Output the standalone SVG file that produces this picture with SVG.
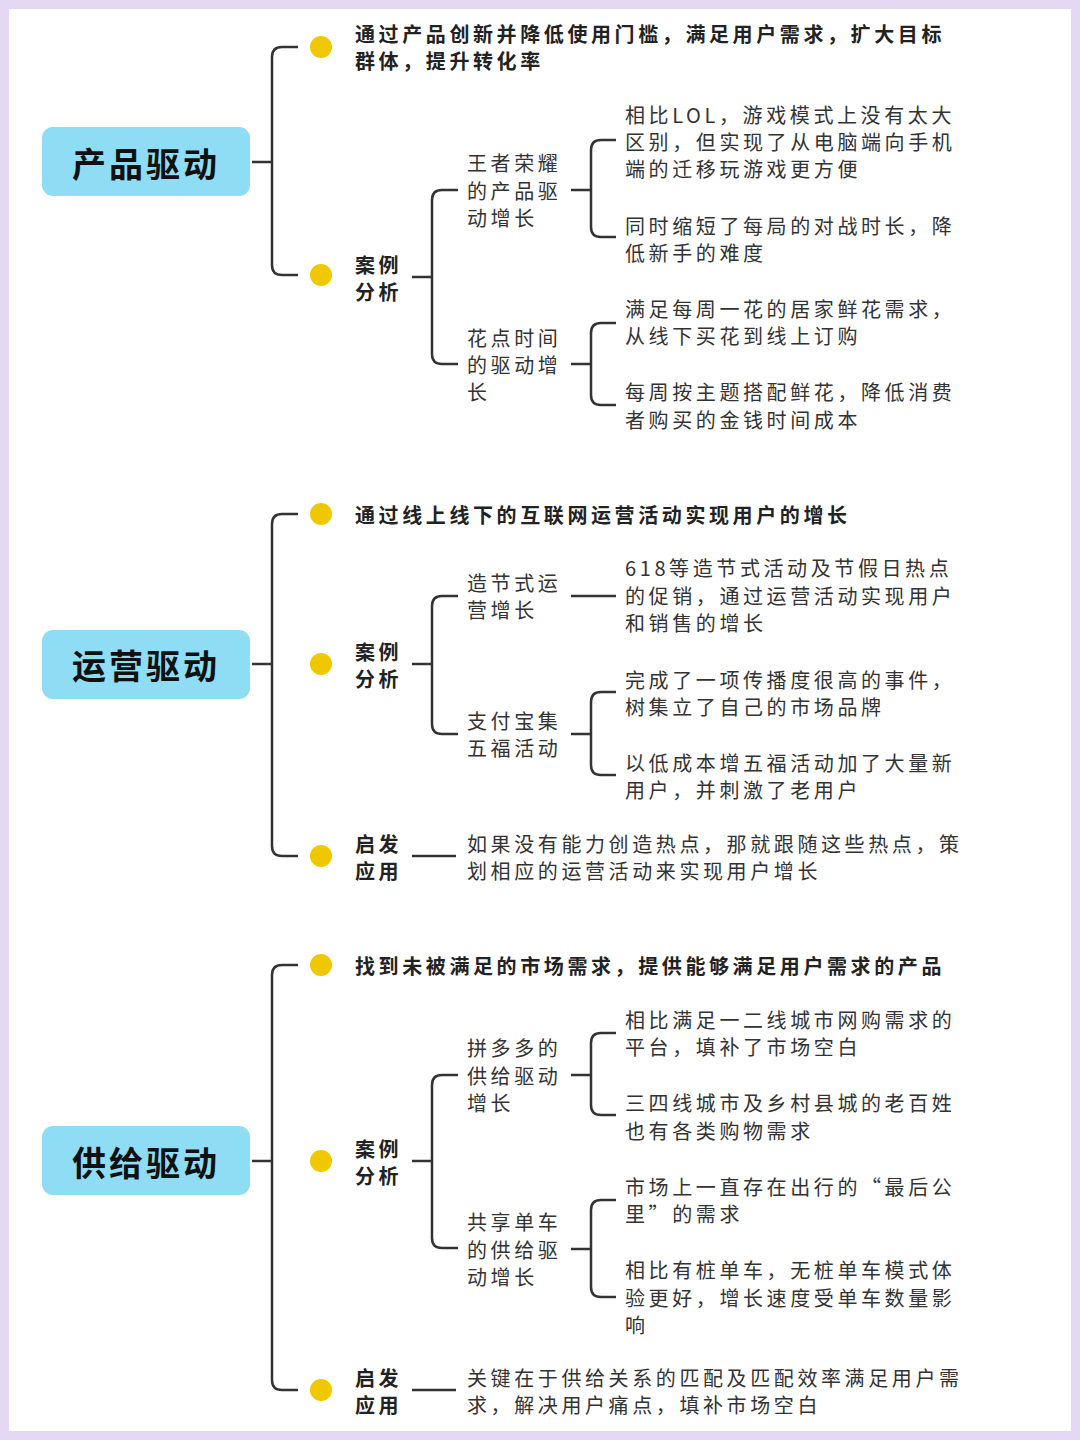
<svg xmlns="http://www.w3.org/2000/svg" width="1080" height="1440" viewBox="0 0 1080 1440">
<style>
text{font-family:"Noto Sans CJK SC","Noto Sans",sans-serif;dominant-baseline:central;fill:#333;font-size:20px;letter-spacing:3.6px}
.b{font-weight:bold;fill:#222}
.r{font-size:34px;font-weight:bold;fill:#111;letter-spacing:3px}
.box{fill:#8fdcf5}
.dot{fill:#f0c800}
#connectors path{fill:none;stroke:#333;stroke-width:2.5}
</style>
<rect x="0" y="0" width="1080" height="1440" fill="#e4d8f4"/>
<rect x="9" y="9" width="1062" height="1422" fill="#fff"/>
<g id="connectors">
<path d="M252,162H272M298,47H282Q272,47 272,57V265Q272,275 282,275H298"/>
<path d="M412,277H432M458,190H442Q432,190 432,200V354Q432,364 442,364H458"/>
<path d="M571,190H591M616,140H601Q591,140 591,150V227Q591,237 601,237H616"/>
<path d="M571,364H591M616,323H601Q591,323 591,333V395Q591,405 601,405H616"/>
<path d="M252,664H272M298,514H282Q272,514 272,524V846Q272,856 282,856H298"/>
<path d="M412,664H432M458,596H442Q432,596 432,606V724Q432,734 442,734H458"/>
<path d="M571,596H616"/>
<path d="M571,734H591M616,692H601Q591,692 591,702V765Q591,775 601,775H616"/>
<path d="M412,856H456"/>
<path d="M252,1161H272M298,965H282Q272,965 272,975V1380Q272,1390 282,1390H298"/>
<path d="M412,1161H432M458,1075H442Q432,1075 432,1085V1238Q432,1248 442,1248H458"/>
<path d="M571,1075H591M616,1033H601Q591,1033 591,1043V1105Q591,1115 601,1115H616"/>
<path d="M571,1249H591M616,1200H601Q591,1200 591,1210V1287Q591,1297 601,1297H616"/>
<path d="M412,1390H456"/>
</g>
<g id="root1"><rect class="box" x="42" y="127" width="208" height="69" rx="11"/><text class="r" x="72" y="162">产品驱动</text></g>
<g id="root2"><rect class="box" x="42" y="630" width="208" height="69" rx="11"/><text class="r" x="72" y="664">运营驱动</text></g>
<g id="root3"><rect class="box" x="42" y="1126" width="208" height="69" rx="11"/><text class="r" x="72" y="1161">供给驱动</text></g>
<g id="dots">
<circle class="dot" cx="321" cy="47" r="11"/><circle class="dot" cx="321" cy="275" r="11"/>
<circle class="dot" cx="321" cy="514" r="11"/><circle class="dot" cx="321" cy="664" r="11"/><circle class="dot" cx="321" cy="856" r="11"/>
<circle class="dot" cx="321" cy="965" r="11"/><circle class="dot" cx="321" cy="1161" r="11"/><circle class="dot" cx="321" cy="1390" r="11"/>
</g>
<g id="s1">
<text class="b" x="355" y="33">通过产品创新并降低使用门槛，满足用户需求，扩大目标</text><text class="b" x="355" y="60">群体，提升转化率</text>
<text class="b" x="355" y="264">案例</text><text class="b" x="355" y="291">分析</text>
<text x="467" y="162">王者荣耀</text><text x="467" y="190">的产品驱</text><text x="467" y="217">动增长</text>
<text x="625" y="114">相比LOL，游戏模式上没有太大</text><text x="625" y="141">区别，但实现了从电脑端向手机</text><text x="625" y="168">端的迁移玩游戏更方便</text>
<text x="625" y="225">同时缩短了每局的对战时长，降</text><text x="625" y="252">低新手的难度</text>
<text x="467" y="337">花点时间</text><text x="467" y="364">的驱动增</text><text x="467" y="391">长</text>
<text x="625" y="308">满足每周一花的居家鲜花需求，</text><text x="625" y="335">从线下买花到线上订购</text>
<text x="625" y="391">每周按主题搭配鲜花，降低消费</text><text x="625" y="419">者购买的金钱时间成本</text>
</g>
<g id="s2">
<text class="b" x="355" y="514">通过线上线下的互联网运营活动实现用户的增长</text>
<text class="b" x="355" y="651">案例</text><text class="b" x="355" y="678">分析</text>
<text x="467" y="582">造节式运</text><text x="467" y="609">营增长</text>
<text x="625" y="567">618等造节式活动及节假日热点</text><text x="625" y="595">的促销，通过运营活动实现用户</text><text x="625" y="622">和销售的增长</text>
<text x="467" y="720">支付宝集</text><text x="467" y="747">五福活动</text>
<text x="625" y="679">完成了一项传播度很高的事件，</text><text x="625" y="706">树集立了自己的市场品牌</text>
<text x="625" y="762">以低成本增五福活动加了大量新</text><text x="625" y="789">用户，并刺激了老用户</text>
<text class="b" x="355" y="843">启发</text><text class="b" x="355" y="870">应用</text>
<text x="467" y="843">如果没有能力创造热点，那就跟随这些热点，策</text><text x="467" y="870">划相应的运营活动来实现用户增长</text>
</g>
<g id="s3">
<text class="b" x="355" y="965">找到未被满足的市场需求，提供能够满足用户需求的产品</text>
<text class="b" x="355" y="1148">案例</text><text class="b" x="355" y="1175">分析</text>
<text x="467" y="1047">拼多多的</text><text x="467" y="1075">供给驱动</text><text x="467" y="1102">增长</text>
<text x="625" y="1019">相比满足一二线城市网购需求的</text><text x="625" y="1046">平台，填补了市场空白</text>
<text x="625" y="1102">三四线城市及乡村县城的老百姓</text><text x="625" y="1130">也有各类购物需求</text>
<text x="467" y="1221">共享单车</text><text x="467" y="1249">的供给驱</text><text x="467" y="1276">动增长</text>
<text x="625" y="1186">市场上一直存在出行的“最后公</text><text x="625" y="1213">里”的需求</text>
<text x="625" y="1269">相比有桩单车，无桩单车模式体</text><text x="625" y="1297">验更好，增长速度受单车数量影</text><text x="625" y="1324">响</text>
<text class="b" x="355" y="1377">启发</text><text class="b" x="355" y="1404">应用</text>
<text x="467" y="1377">关键在于供给关系的匹配及匹配效率满足用户需</text><text x="467" y="1404">求，解决用户痛点，填补市场空白</text>
</g>
</svg>
